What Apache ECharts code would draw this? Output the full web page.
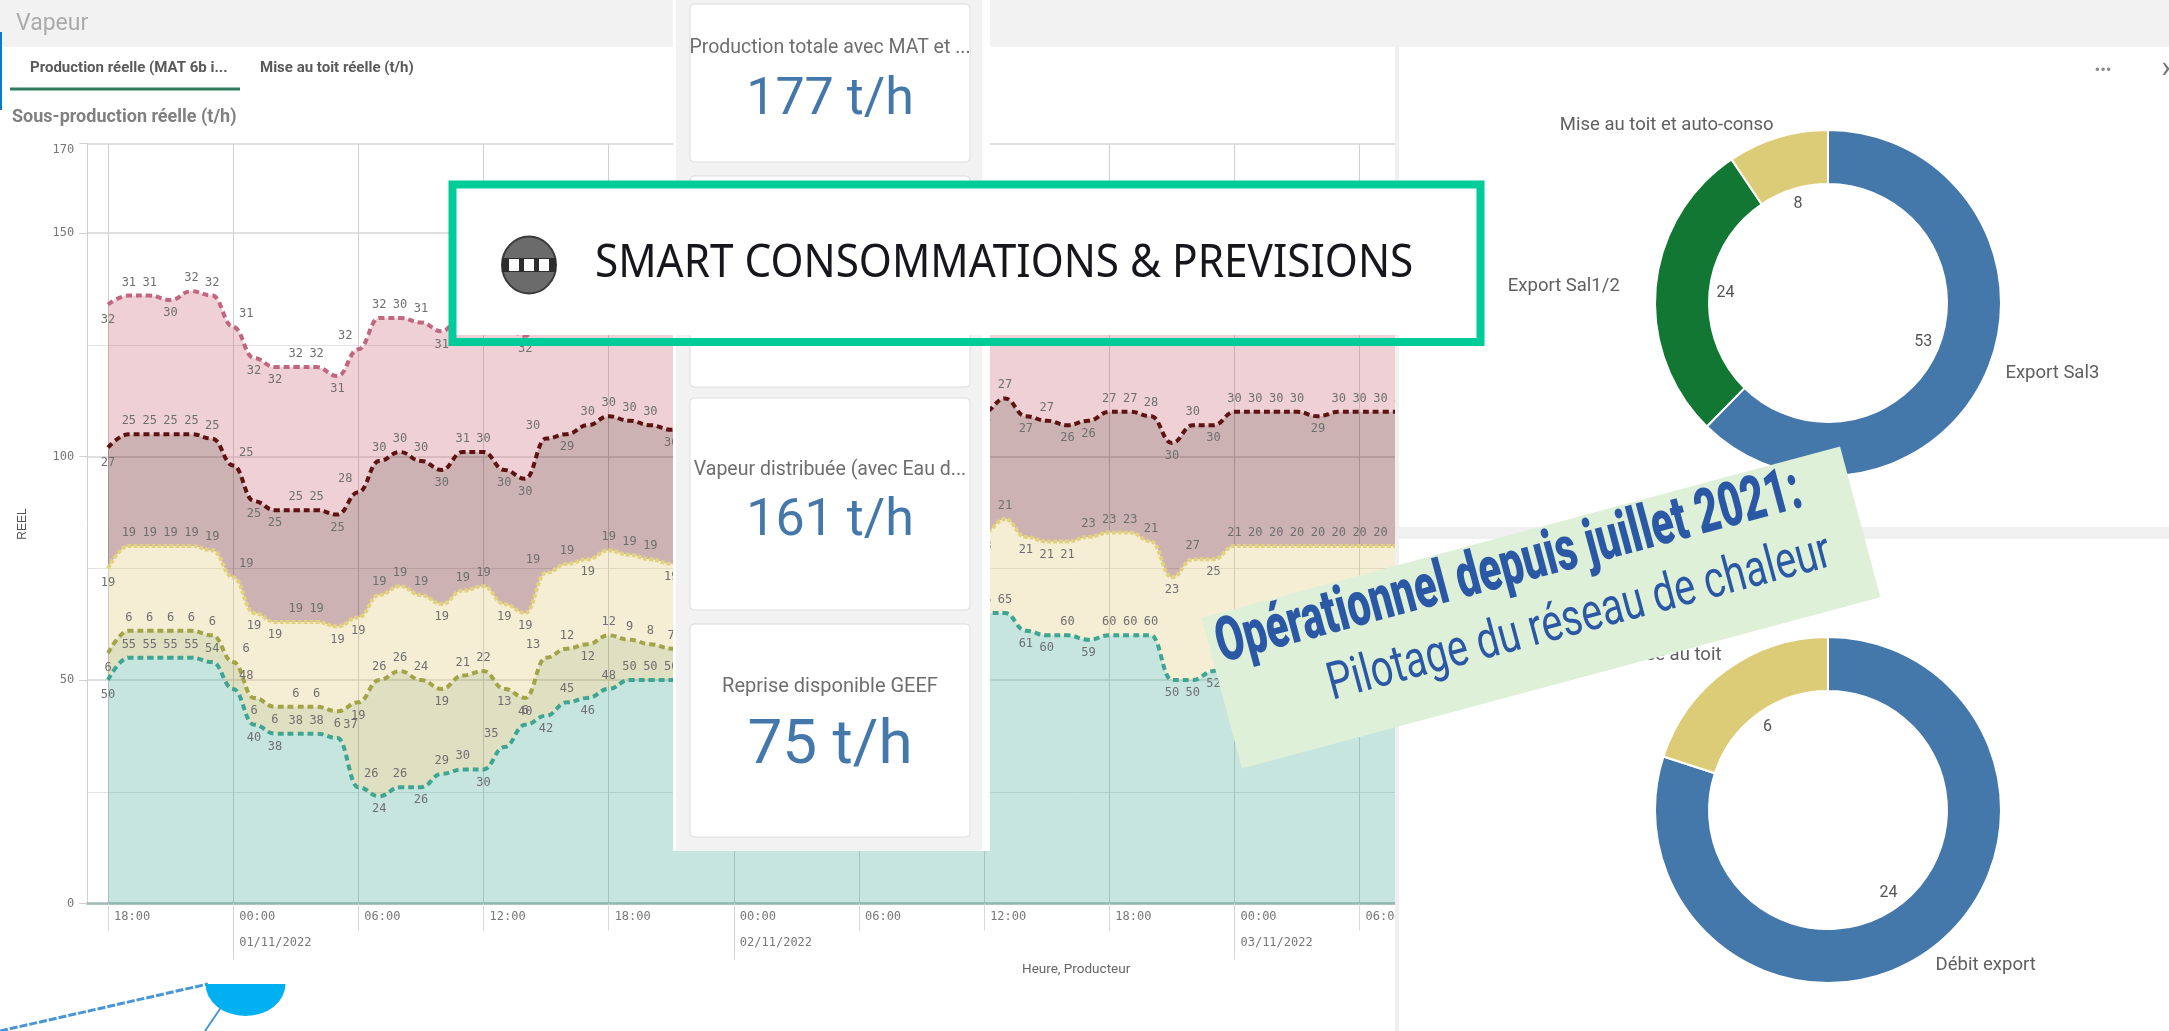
<!DOCTYPE html>
<html><head><meta charset="utf-8">
<style>html,body{margin:0;padding:0;background:#fff;overflow:hidden}#c{width:2169px;height:1031px}</style>
<script src="https://cdn.jsdelivr.net/npm/echarts@6/dist/echarts.min.js"></script>
</head><body><div id="c"></div>
<script>
const hours = ['18:00','19:00','20:00','21:00','22:00','23:00',
 '00:00','01:00','02:00','03:00','04:00','05:00','06:00','07:00','08:00','09:00','10:00','11:00','12:00','13:00','14:00','15:00','16:00','17:00','18:00','19:00','20:00','21:00','22:00','23:00',
 '00:00','01:00','02:00','03:00','04:00','05:00','06:00','07:00','08:00','09:00','10:00','11:00','12:00','13:00','14:00','15:00','16:00','17:00','18:00','19:00','20:00','21:00','22:00','23:00',
 '00:00','01:00','02:00','03:00','04:00','05:00','06:00','07:00','08:00'];
const dateLabels = ['01/11/2022','02/11/2022','03/11/2022'];
const debit = [50,55,55,55,55,54,48,40,38,38,38,37,26,24,26,26,29,30,30,35,40,42,45,46,48,50,50,50,50,52,55,55,56,58,60,60,60,62,63,64,65,65,65,65,61,60,60,59,60,60,60,50,50,52,59,60,60,60,60,60,60,60,60];
const olive = [6,6,6,6,6,6,6,6,6,6,6,6,19,26,26,24,19,21,22,13,6,13,12,12,12,9,8,7,6,5,4,3,2,1,null,null,null,null,null,null,null,null,null,null,null,null,null,null,null,null,null,null,null,null,null,null,null,null,null,null,null,null,null];
const jaune = [19,19,19,19,19,19,19,19,19,19,19,19,19,19,19,19,19,19,19,19,19,19,19,19,19,19,19,19,20,20,20,20,20,20,20,20,20,20,20,19,19,18,18,21,21,21,21,23,23,23,21,23,27,25,21,20,20,20,20,20,20,20,20];
const brun = [27,25,25,25,25,25,25,25,25,25,25,25,28,30,30,30,30,31,30,30,30,30,29,30,30,30,30,30,30,30,29,29,28,28,28,27,27,27,27,27,27,27,27,27,27,27,26,26,27,27,28,30,30,30,30,30,30,30,29,30,30,30,30];
const rose = [32,31,31,30,32,32,31,32,32,32,32,31,32,32,30,31,31,31,30,32,32,30,30,30,30,30,30,30,30,30,30,30,30,30,30,30,30,30,30,30,30,30,30,30,30,30,30,30,30,30,30,28,30,30,30,30,30,30,30,30,30,30,30];
const donut1Names = ['Export Sal3','Export Sal1/2','Mise au toit et auto-conso'];
const donut1Values = [53,24,8];
const donut2Names = ['Débit export','Mise au toit'];
const donut2Values = [24,6];

const rad = d => d*Math.PI/180;
const MONO = '"DejaVu Sans Mono", monospace';
const categories = [''].concat(hours);
const dateAt = {}; { let n=0; hours.forEach((h,i)=>{ if(h==='00:00') dateAt[i+1]=dateLabels[n++]; }); }
const isSix = (idx)=> idx>0 && (+hours[idx-1].slice(0,2))%6===0;
const isMidnight = (idx)=> idx>0 && hours[idx-1]==='00:00';

const layers = [
 {name:'Débit', v:debit, line:'#3fa593', dash:[6,4], w:4, fill:'rgba(65,168,148,0.3)'},
 {name:'Olive', v:olive, line:'#a3a348', dash:[6,4], w:4, fill:'rgba(148,148,52,0.3)'},
 {name:'Jaune', v:jaune, line:'#e2d27c', dash:[4,2], w:4, fill:'rgba(222,198,112,0.3)'},
 {name:'Brun', v:brun, line:'#5e1212', dash:[6,4], w:4, fill:'rgba(85,0,0,0.3)'},
 {name:'Rose', v:rose, line:'#c0667f', dash:[6,4], w:4, fill:'rgba(202,98,115,0.3)'}
];
const running = hours.map(()=>0);
const lineSeries = layers.map(L=>{
  const cum = L.v.map((x,i)=> running[i]+= (x==null?0:x));
  const data = [{value:null}].concat(L.v.map((x,i)=>{
    if(x==null) return {value:null};
    if(i===0) return {value:x, label:{position:'bottom', offset:[0,2]}};
    const p = cum[i-1], n = i<cum.length-1?cum[i+1]:cum[i];
    const s = n-p;
    const steep = s<=-11 || s>=10;
    const above = steep || 2*cum[i] >= p+n;
    const shift = s<=-11 ? 13 : (s>=10 ? -13 : 0);
    return {value:x, label:{position: above?'top':'bottom', offset:[shift,0]}};
  }));
  return {name:L.name,type:'line',stack:'vapeur',data,smooth:0.45,smoothMonotone:'x',
    xAxisIndex:0,yAxisIndex:0,z:2,
    showSymbol:true,showAllSymbol:true,symbol:'circle',symbolSize:0.1,connectNulls:false,silent:true,
    lineStyle:{color:L.line,width:L.w,type:L.dash},
    itemStyle:{color:'rgba(0,0,0,0)'},
    areaStyle:{color:L.fill,opacity:1},
    label:{show:true,fontFamily:MONO,fontSize:12,color:'#6f6f6f',distance:7},
    animation:false};
});

function donut(names,values,colors,cy,moves){
  const items = names.map((n,i)=>({name:n,value:values[i],itemStyle:{color:colors[i]}}));
  return [
   {type:'pie',z:150,silent:true,animation:false,center:[1828,cy],radius:[119,173],startAngle:90,clockwise:true,
    data:items,itemStyle:{borderColor:'#fff',borderWidth:2},
    label:{show:true,position:'outside',formatter:'{b}',fontFamily:'Roboto',fontSize:18.5,color:'#5f5f5f'},
    labelLine:{show:false,length:10,length2:6},
    labelLayout:p=>({dx:moves[p.dataIndex][0],dy:moves[p.dataIndex][1]})},
   {type:'pie',z:151,silent:true,animation:false,center:[1828,cy],radius:[0,200],startAngle:90,clockwise:true,
    data:items.map(d=>({name:d.name,value:d.value,itemStyle:{color:'rgba(0,0,0,0)'}})),
    label:{show:true,position:'inside',formatter:'{c}',fontFamily:'Roboto',fontSize:16,color:'#555'},
    labelLine:{show:false}}
  ];
}

const g = [];
const rect=(x,y,w,h,fill,z,extra)=>g.push(Object.assign({type:'rect',shape:{x,y,width:w,height:h,r:(extra&&extra.r)||0},style:{fill,stroke:extra&&extra.stroke||null,lineWidth:extra&&extra.lw||0},z,silent:true}));
const text=(s,x,y,font,fill,align,z,sx)=>g.push({type:'text',x,y,scaleX:sx||1,style:{text:s,font,fill,textAlign:align||'left',textVerticalAlign:'middle'},z:z||105,silent:true});
// header and tabs
rect(0,0,2169,47,'#f2f2f2',100);
rect(0,32,2,78,'#0a7ccb',101);
text('Vapeur',16,24,'23px Roboto','#ababab','left',105,1);
text('Production réelle (MAT 6b i...',30,68,'bold 15px Roboto','#5a5a5a');
text('Mise au toit réelle (t/h)',260,68,'bold 15px Roboto','#5a5a5a');
rect(10,87.5,230,3,'#2f7d5c',101);
text('Sous-production réelle (t/h)',12,117,'bold 18px Roboto','#808080');
text('Heure, Producteur',1022,970,'13.5px Roboto','#666');
text('REEL',23,524,'12px "Liberation Sans"','#555');
g[g.length-1].rotation=Math.PI/2; g[g.length-1].style.textAlign='center';
// right panels
rect(1395,47,774,984,'#ffffff',100);
rect(1395,47,4,984,'#f0f0f0',101);
rect(1399,527,770,12,'#f0f0f0',101);
text('•••',2103,71,'17px Roboto','#888','center');
text('›',2166,69,'32px Roboto','#777','center');
// centre panel
rect(673,0,317,851,'#ffffff',100);
rect(676,0,306,851,'#f2f2f2',101);
rect(982,47,8,395,'#ffffff',101);
rect(982,456,8,395,'#ffffff',101);
[[4,158],[176,100],[260,127],[398,212],[624,213]].forEach(c=>rect(690,c[0],280,c[1],'#fff',102,{r:4,stroke:'#dcdcdc',lw:1}));
text('Production totale avec MAT et ...',830,48,'19.5px Roboto','#6e6e6e','center');
text('177 t/h',830,101,'52px Roboto','#4477aa','center');
text('Vapeur distribuée (avec Eau d...',830,470,'19.5px Roboto','#6e6e6e','center');
text('161 t/h',830,522,'52px Roboto','#4477aa','center');
text('Reprise disponible GEEF',830,687,'20px Roboto','#6e6e6e','center');
text('75 t/h',830,747,'62px Roboto','#4477aa','center');
// smart box
rect(456,188,1021,147,'#ffffff',200);
rect(452.5,184.5,1028,157.5,'rgba(0,0,0,0)',201,{stroke:'#00cc99',lw:8});
g.push({type:'ellipse',shape:{cx:529,cy:265,rx:27,ry:28.5},style:{fill:'#6b6b6b',stroke:'#3a3a3a',lineWidth:2},z:202,silent:true});
rect(502,258,54,14,'#2d2d2d',202);
[514,529,544].forEach(x=>rect(x-5,259,10,12,'#ffffff',203));
text('SMART CONSOMMATIONS & PREVISIONS',595,264,'46px "Noto Sans"','#16161c','left',204,0.92);
// cyan node
g.push({type:'line',shape:{x1:0,y1:1031,x2:208,y2:984},style:{stroke:'#4a95d6',lineWidth:3,lineDash:[8,2]},z:105,silent:true});
g.push({type:'line',shape:{x1:222,y1:1006,x2:205,y2:1031},style:{stroke:'#4a95d6',lineWidth:2},z:105,silent:true});
g.push({type:'sector',x:245.5,y:984,scaleY:0.8,shape:{cx:0,cy:0,r:40,r0:0,startAngle:0,endAngle:Math.PI},style:{fill:'#00b0f0'},z:106,silent:true});
// banner
g.push({type:'group',x:1541,y:607.5,rotation:rad(15),z:300,silent:true,children:[
  {type:'rect',shape:{x:-330.5,y:-78,width:661,height:156},style:{fill:'#dff0d8'},z:300},
  {type:'text',x:-21,y:-14,scaleX:0.66,style:{text:'Opérationnel depuis juillet 2021:',font:'900 62px Roboto',fill:'#2b58a5',textAlign:'center',textVerticalAlign:'bottom'},z:301},
  {type:'text',x:34,y:48,scaleX:0.76,style:{text:'Pilotage du réseau de chaleur',font:'52px Roboto',fill:'#2b58a5',textAlign:'center',textVerticalAlign:'bottom'},z:301}
]});

const chart = echarts.init(document.getElementById('c'),null,{renderer:'canvas'});
chart.setOption({
  animation:false,
  backgroundColor:'#fff',
  grid:{left:87.14,top:143.6,width:1314.2,height:759.9,containLabel:false},
  xAxis:[
   {type:'category',data:categories,boundaryGap:false,
    axisLine:{show:true,onZero:false,lineStyle:{color:'#a3bab6',width:2.5}},
    axisTick:{show:true,length:27,interval:i=>isSix(i),lineStyle:{color:'#d9d9d9'}},
    axisLabel:{show:true,interval:i=>isSix(i),margin:7,align:'left',padding:[0,0,0,6],fontFamily:MONO,fontSize:12,color:'#777',hideOverlap:false},
    splitLine:{show:true,interval:i=>isSix(i),lineStyle:{color:'#cfcfcf',width:1}}},
   {type:'category',data:categories,boundaryGap:false,position:'bottom',
    axisLine:{show:false},
    axisTick:{show:true,length:56,interval:i=>isMidnight(i),lineStyle:{color:'#d4d4d4'}},
    axisLabel:{show:true,interval:i=>isMidnight(i),margin:33,align:'left',padding:[0,0,0,6],fontFamily:MONO,fontSize:12,color:'#777',formatter:(v,i)=>dateAt[i]||''},
    splitLine:{show:false}}
  ],
  yAxis:{type:'value',min:0,max:170,interval:50,
    axisLine:{show:true,lineStyle:{color:'#cfcfcf'}},
    axisTick:{show:true,length:8,lineStyle:{color:'#cfcfcf'}},
    axisLabel:{margin:13,fontFamily:MONO,fontSize:12,color:'#777',verticalAlignMaxLabel:'top'},
    splitLine:{show:true,lineStyle:{color:'#d6d6d6',width:1.5}},
    minorTick:{show:false,splitNumber:2},
    minorSplitLine:{show:true,lineStyle:{color:'#e3e3e3',width:1}}},
  series: lineSeries
    .concat(donut(donut1Names,donut1Values,['#4477aa','#117733','#ddcc77'],303,[[-3,1],[-15,0],[10,-3]]))
    .concat(donut(donut2Names,donut2Values,['#4477aa','#ddcc77'],810,[[-11,7],[12,-7]])),
  graphic:{elements:g}
});
</script></body></html>
